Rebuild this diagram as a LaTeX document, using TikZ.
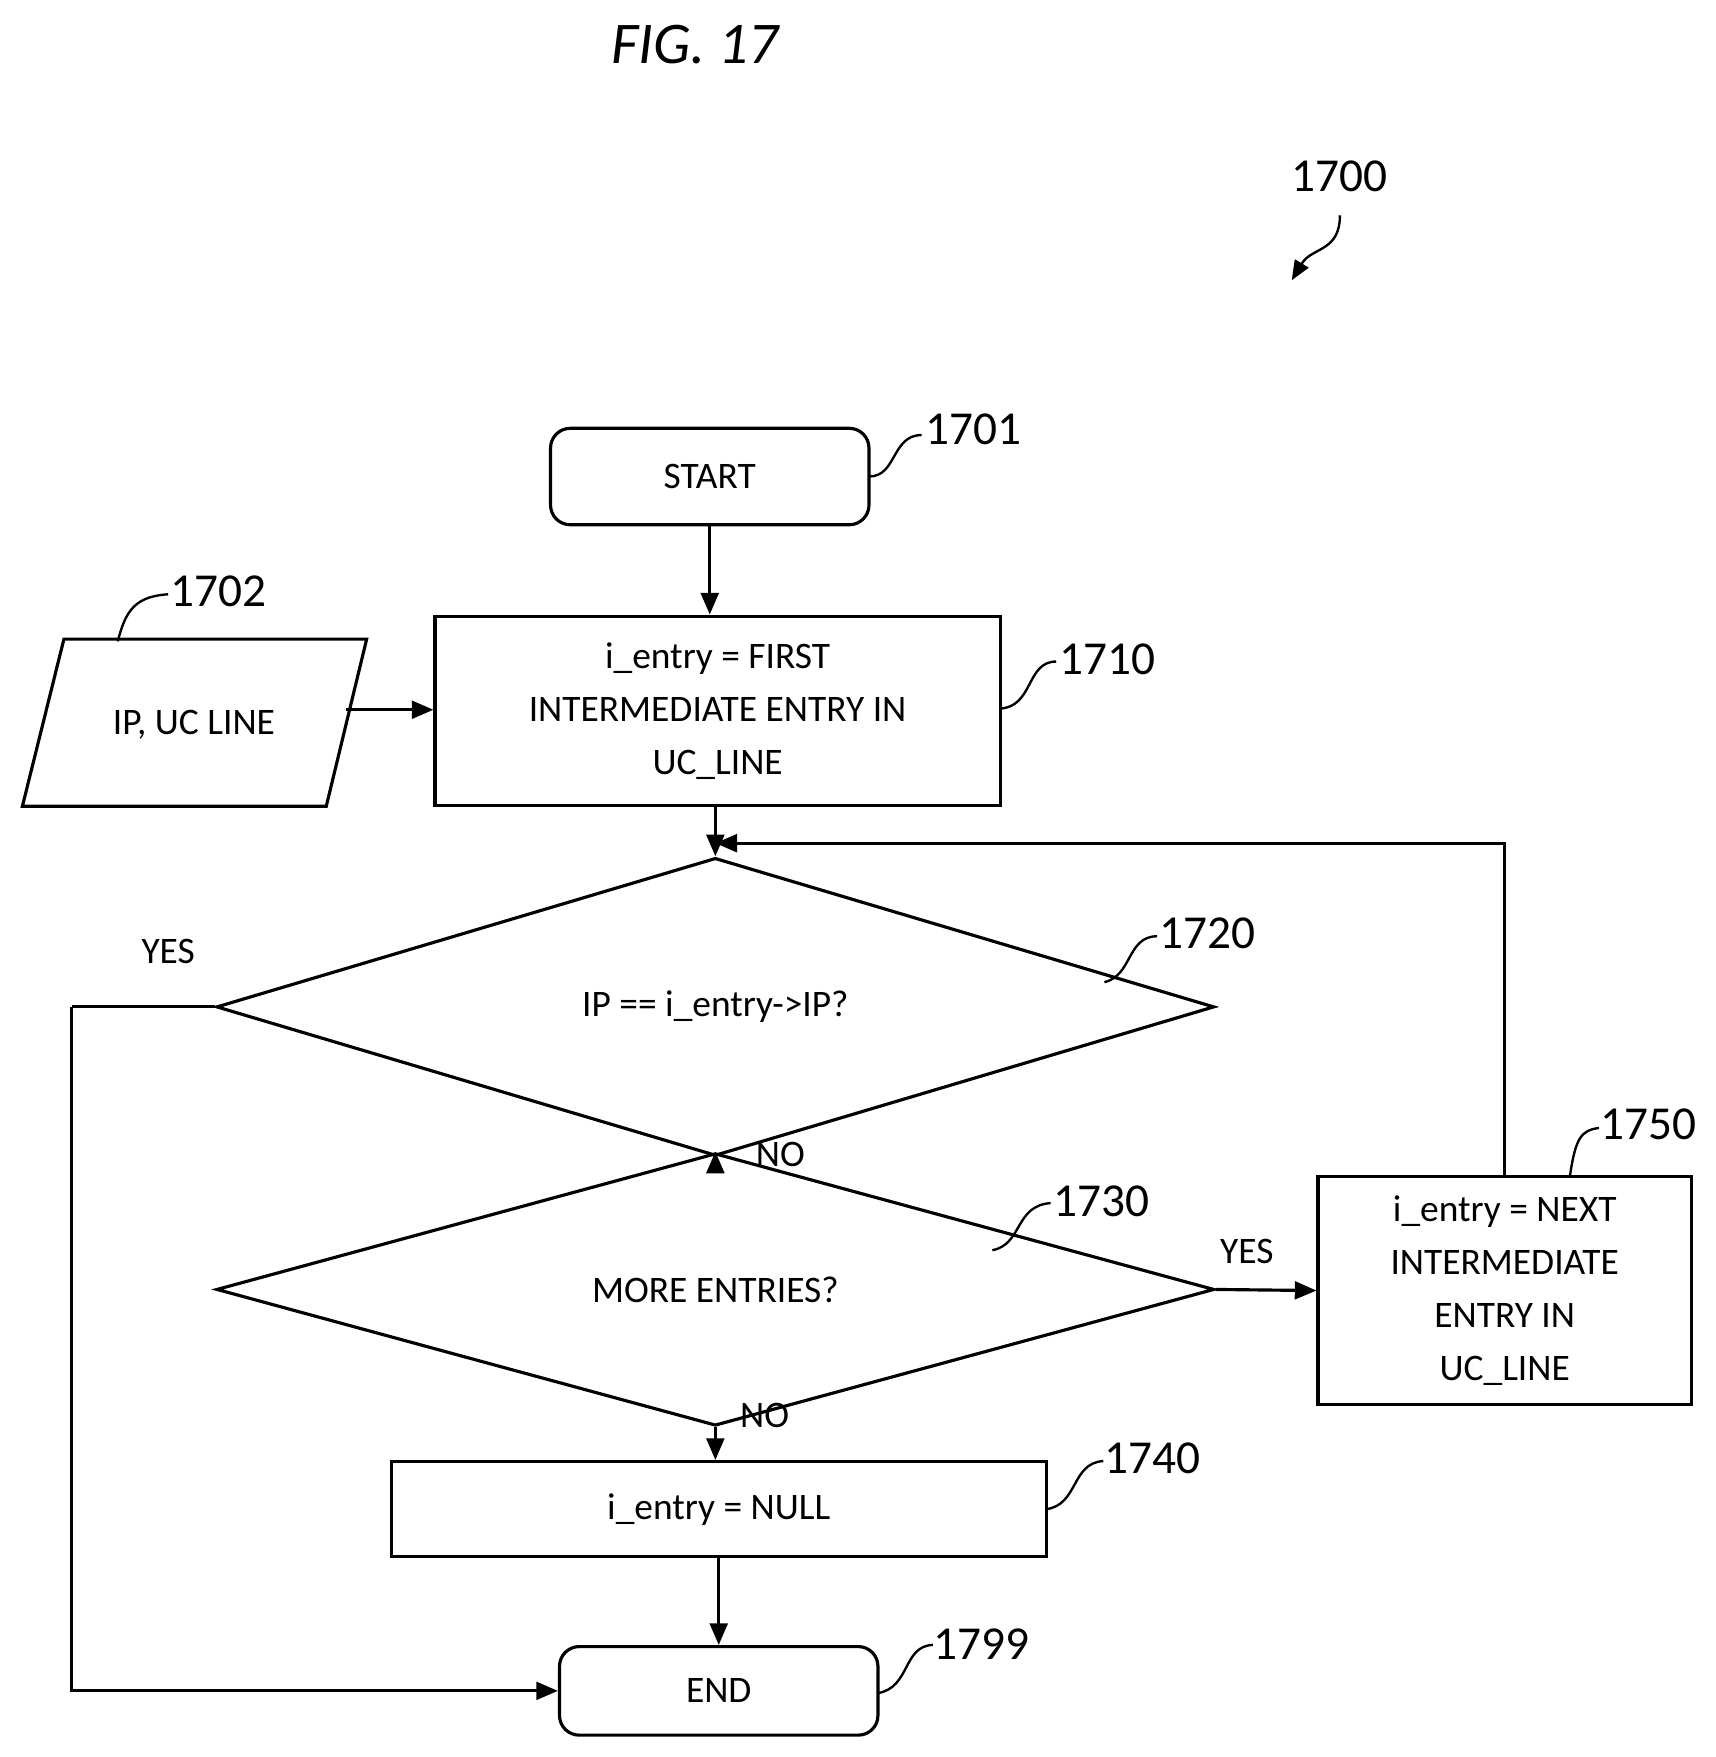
\documentclass[tikz,border=0pt]{standalone}
\usepackage{fontspec}
\setmainfont{Carlito}
\usetikzlibrary{shapes.geometric,arrows.meta}
\begin{document}
\begin{tikzpicture}[x=0.02cm,y=-0.02cm,
  box/.style={draw,line width=1.6pt,align=center,font=\fontsize{19}{27}\selectfont,inner sep=0},
  dia/.style={draw,diamond,line width=1.6pt,inner sep=0,font=\fontsize{19}{23}\selectfont},
  lbl/.style={font=\fontsize{24}{28}\selectfont},
  txt/.style={font=\fontsize{19}{23}\selectfont},
  arr/.style={line width=1.6pt,-{Triangle[length=11pt,width=9pt]}},
  ln/.style={line width=1.6pt},
  sq/.style={line width=1.2pt}]
\useasboundingbox (0,0) rectangle (1530,1567);
\node[lbl,font=\fontsize{30}{34}\selectfont\itshape] (fig) at (620,40) {FIG. 17};
\node[lbl] (l1700) at (1195,157) {1700};
\coordinate (a1700) at (1195,192);
\coordinate (b1700) at (1152,250);
\draw[line width=1.2pt,-{Triangle[length=10pt,width=8pt]}] (a1700) .. controls (1195,225) and (1170,220) .. (b1700);

\node[box,rounded corners=10pt,minimum width=284*0.02cm,minimum height=86*0.02cm] (start) at (633,425) {START};
\node[box,minimum width=504*0.02cm,minimum height=169*0.02cm] (b1710) at (640,634) {i\_entry = FIRST\\INTERMEDIATE ENTRY IN\\UC\_LINE};
\coordinate (p1) at (57,570); \coordinate (p2) at (327,570); \coordinate (p3) at (291,719); \coordinate (p4) at (20,719);
\draw[ln] (p1)--(p2)--(p3)--(p4)--cycle;
\node[txt] (ip) at (173,646) {IP, UC LINE};
\coordinate (ipr) at (309,633);
\node[dia,minimum width=890*0.02cm,minimum height=195*0.02cm] (d1720) at (638,898) {IP == i\_entry->IP?};
\node[dia,minimum width=890*0.02cm,minimum height=146*0.02cm] (d1730) at (638,1150) {MORE ENTRIES?};
\node[box,minimum width=333*0.02cm,minimum height=203*0.02cm] (b1750) at (1342,1151) {i\_entry = NEXT\\INTERMEDIATE\\ENTRY IN\\UC\_LINE};
\node[box,minimum width=584*0.02cm,minimum height=85*0.02cm] (b1740) at (641,1346) {i\_entry = NULL};
\node[box,rounded corners=10pt,minimum width=284*0.02cm,minimum height=79*0.02cm] (end) at (641,1508) {END};

\draw[arr] (start.south) -- (start.south|-b1710.north);
\draw[arr] (ipr) -- (ipr-|b1710.west);
\draw[arr] (b1710.south-|d1720.north) -- (d1720.north);
\draw[arr] (d1720.south) -- (d1730.north);
\draw[arr] (d1730.south) -- (d1730.south|-b1740.north);
\draw[arr] (b1740.south-|end.north) -- (end.north);
\draw[arr] (d1730.east) -- (b1750.west);
\coordinate (loop) at (638,752);
\draw[arr] (b1750.north) |- (loop);
\coordinate (yl) at (64,898);
\draw[ln] (d1720.west) -- (yl);
\draw[arr] (yl) |- (end.west);

\node[txt] (yes1) at (150,849) {YES};
\node[txt] (no1) at (696,1030) {NO};
\node[txt] (yes2) at (1112,1116) {YES};
\node[txt] (no2) at (682,1262) {NO};

\node[lbl] (l1701) at (868,383) {1701};
\draw[sq] (775,425) .. controls (800,425) and (795,388) .. (822,388);
\node[lbl] (l1702) at (195,527) {1702};
\draw[sq] (105,572) .. controls (112,545) and (120,532) .. (150,530);
\node[lbl] (l1710) at (988,588) {1710};
\draw[sq] (892,632) .. controls (922,630) and (915,590) .. (942,590);
\node[lbl] (l1720) at (1077,832) {1720};
\draw[sq] (985,876) .. controls (1010,870) and (1005,835) .. (1032,835);
\node[lbl] (l1730) at (982,1071) {1730};
\draw[sq] (885,1115) .. controls (912,1110) and (905,1075) .. (937,1073);
\node[lbl] (l1750) at (1470,1003) {1750};
\draw[sq] (1400,1050) .. controls (1405,1015) and (1410,1008) .. (1426,1006);
\node[lbl] (l1740) at (1028,1301) {1740};
\draw[sq] (933,1346) .. controls (962,1342) and (955,1305) .. (984,1303);
\node[lbl] (l1799) at (875,1466) {1799};
\draw[sq] (783,1510) .. controls (812,1505) and (805,1468) .. (832,1467);
\end{tikzpicture}
\end{document}
